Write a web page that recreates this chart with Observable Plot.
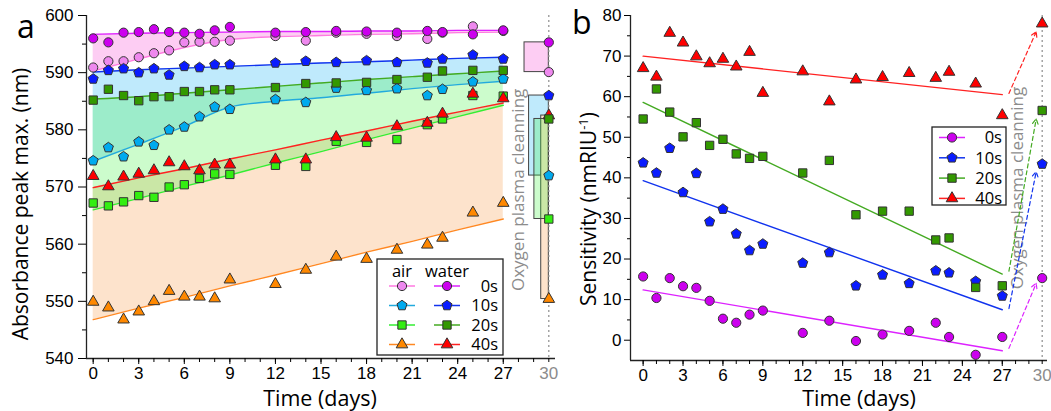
<!DOCTYPE html>
<html><head><meta charset="utf-8">
<script src="https://cdn.jsdelivr.net/npm/d3@7"></script>
<script src="https://cdn.jsdelivr.net/npm/@observablehq/plot@0.6"></script>
<style>
body{margin:0;background:#fff;}
#wrap{position:relative;width:1051px;height:411px;overflow:hidden;background:#fff;}
#pa{position:absolute;left:0;top:0;}
#pb{position:absolute;left:560px;top:0;}
svg{overflow:visible;}
</style></head><body><div id="wrap"><div id="pa"></div><div id="pb"></div></div>
<script>
// ---------- DATA ----------
const days = [0,1,2,3,4,5,6,7,8,9,12,14,16,18,20,22,23,25,27,30];
const groups = ["0s","10s","20s","40s"];
// Panel a: absorbance peak max (nm), measured in air and in water
const air0    = [590.9,592.0,592.0,592.7,593.4,593.9,595.3,595.4,595.4,595.6,596.4,595.6,597.0,596.8,596.4,595.9,597.0,598.1,597.3,590.1];
const water0  = [596.0,595.3,597.0,597.1,597.6,597.1,597.0,596.8,597.4,598.0,597.0,597.1,597.3,597.2,597.0,597.3,597.1,596.7,597.4,595.3];
const air10   = [574.6,576.9,575.3,577.9,577.3,580.0,580.5,582.3,584.0,583.6,585.3,584.8,587.3,586.9,587.2,586.0,587.1,588.4,588.9,572.0];
const water10 = [588.9,590.4,590.7,590.0,590.7,589.6,591.1,590.9,591.4,591.4,591.7,592.0,591.8,592.1,591.8,591.7,592.4,593.1,592.4,586.0];
const air20   = [567.2,566.7,567.4,568.5,568.2,570.0,570.4,571.5,572.3,572.2,573.8,573.6,578.0,577.8,578.3,580.9,581.9,586.0,585.9,564.4];
const water20 = [585.2,587.1,586.0,585.1,585.8,585.8,586.7,586.7,587.0,587.0,587.4,588.1,588.2,588.3,588.8,589.2,590.3,590.4,590.4,581.9];
const air40   = [549.9,548.9,546.8,548.2,550.0,551.8,550.8,550.8,550.5,553.8,553.0,555.5,557.8,557.4,559.0,559.9,561.1,565.5,567.2,550.4];
const water40 = [571.9,570.1,571.8,572.3,572.9,574.3,573.6,572.9,573.9,573.9,574.8,574.8,578.7,578.6,580.6,581.2,582.8,586.3,585.5,582.5];
// Panel a fit curves
const fitDaysA = [0,3,6,9,12,15,18,21,24,27];
const fitAir0    = [590.3,592.4,594.4,595.8,596.3,596.5,596.7,596.8,597.0,597.1];
const fitWater0  = [596.7,596.9,597.0,597.1,597.2,597.2,597.3,597.3,597.4,597.4];
const fitAir10   = [574.5,577.5,580.6,584.0,585.0,585.6,586.4,587.2,587.9,588.5];
const fitWater10 = [590.1,590.5,590.8,591.1,591.4,591.7,591.9,592.2,592.5,592.7];
const fitAir20   = [566.0,568.0,570.1,572.1,574.2,576.2,578.3,580.3,582.3,584.3];
const fitWater20 = [585.4,585.8,586.4,587.0,587.6,588.2,588.8,589.3,589.8,590.3];
const fitAir40   = [546.8,548.8,550.7,552.7,554.6,556.6,558.6,560.5,562.5,564.4];
const fitWater40 = [569.9,571.6,573.2,574.9,576.5,578.2,579.8,581.5,583.1,584.7];
// Panel b: sensitivity (nm RIU^-1)
const sens0  = [15.7,10.4,15.3,13.3,12.9,9.7,5.3,4.3,6.3,7.3,1.8,4.8,-0.2,1.4,2.3,4.3,0.8,-3.6,0.8,15.3];
const sens10 = [43.7,41.2,47.3,36.4,41.1,29.2,32.3,26.2,22.1,23.7,19.0,21.6,13.4,16.1,14.0,17.1,16.6,14.5,10.9,43.4];
const sens20 = [54.5,61.9,56.2,50.1,53.6,48.0,49.5,45.9,44.8,45.3,41.2,44.3,30.9,31.8,31.8,24.7,25.2,13.0,13.4,56.6];
const sens40 = [67.0,64.9,75.7,73.3,69.9,68.2,69.3,67.4,71.0,60.9,66.2,58.8,64.2,64.8,65.8,64.6,66.1,63.2,55.4,78.0];
const fitDaysB = [0,27];
const fitSens0  = [12.4,-2.6];
const fitSens10 = [39.3,7.5];
const fitSens20 = [58.6,16.3];
const fitSens40 = [70.0,60.5];
// dashed arrows after cleaning (start / end values)
const arrowStart = [-2.0,7.8,17.0,60.8];
const arrowEnd   = [14.0,41.5,54.5,76.0];
const arrowDays  = [27.5,29.55];

// ---------- STYLE ----------
const pentagon = {draw(ctx, size){const r=Math.sqrt(size/Math.PI)*1.2;for(let i=0;i<5;i++){const a=-Math.PI/2+i*2*Math.PI/5;const x=r*Math.cos(a),y=r*Math.sin(a);i?ctx.lineTo(x,y):ctx.moveTo(x,y);}ctx.closePath();}};
const symbols = [d3.symbolCircle, pentagon, d3.symbolSquare, d3.symbolTriangle];
const radii = [4.6, 4.4, 4.7, 4.3];
const airFill   = ["#ee88ee","#00aaee","#33ee11","#ff8800"];
const waterFill = ["#cc00ee","#0a1cff","#339900","#ff0000"];
const airLine   = ["#ff7ae0","#22aadd","#33ee33","#ff8822"];
const waterLine = ["#dd22ff","#1133ee","#44aa22","#ff2222"];
const airSeries = [air0, air10, air20, air40];
const waterSeries = [water0, water10, water20, water40];
const fitAir = [fitAir0, fitAir10, fitAir20, fitAir40];
const fitWater = [fitWater0, fitWater10, fitWater20, fitWater40];
const sensSeries = [sens0, sens10, sens20, sens40];
const fitSens = [fitSens0, fitSens10, fitSens20, fitSens40];
const tickFont = "'Liberation Sans', Arial, sans-serif";
const titleFont = "'Open Sans', sans-serif";
const gray = "#8c8c8c";

const pts = arr => days.map((d,i)=>({d, v: arr[i]}));
const fitPts = (dd, arr) => dd.map((d,i)=>({d, v: arr[i]}));
const band = (i) => fitDaysA.map((d,k)=>({d, lo: fitAir[i][k], hi: fitWater[i][k]}));
const dotMark = (arr, i, fill) => Plot.dot(pts(arr), {x:"d", y:"v", symbol: symbols[i], r: radii[i], fill, stroke:"#333", strokeWidth:1});

// ---------- PANEL A ----------
const last = days.length - 1;
const boxLeft = [28.4, 28.7, 29.05, 29.5];
const boxRow = i => [{x1: boxLeft[i], x2: 30, y1: airSeries[i][last], y2: waterSeries[i][last]}];
const areaFill = ["#fdcdf3","#bfeafc","#34f434","#fde3cc"];
const areaOp = [1,1,0.25,1];
const dotOrderA = [];
[0,1,2,3].forEach(i=>dotOrderA.push(dotMark(airSeries[i], i, airFill[i])));
[3,1,2,0].forEach(i=>dotOrderA.push(dotMark(waterSeries[i], i, waterFill[i])));

const plotA = Plot.plot({
  width: 560, height: 411,
  marginLeft: 86, marginRight: 5, marginTop: 15, marginBottom: 53,
  x: {domain: [-0.44, 30.44], range: [86, 555], label: null},
  y: {domain: [540, 600], label: null},
  style: {fontFamily: tickFont, fontSize: "17px", background: "transparent", color: "#000", overflow: "visible"},
  marks: [
    ...[0,1,3,2].map(i => Plot.areaY(band(i), {x:"d", y1:"lo", y2:"hi", fill: areaFill[i], fillOpacity: areaOp[i], curve:"monotone-x"})),
    ...[1,3,2,0].map(i => Plot.rect(boxRow(i), {x1:"x1", x2:"x2", y1:"y1", y2:"y2", fill: areaFill[i], fillOpacity: areaOp[i], stroke:"#444", strokeWidth:1})),
    Plot.ruleX([30], {stroke: gray, strokeDasharray: "2,3", strokeWidth: 1.2}),
    Plot.text(["Oxygen plasma cleanning"], {x: 28.0, y: 569.5, rotate: -90, fill: gray, fontSize: 17, fontFamily: titleFont}),
    ...[0,1,2,3].map(i => Plot.line(fitPts(fitDaysA, fitAir[i]), {x:"d", y:"v", stroke: airLine[i], strokeWidth: 1.4, curve:"monotone-x"})),
    ...[0,1,2,3].map(i => Plot.line(fitPts(fitDaysA, fitWater[i]), {x:"d", y:"v", stroke: waterLine[i], strokeWidth: 1.4, curve:"monotone-x"})),
    ...dotOrderA,
    Plot.ruleY([540], {stroke:"#222", strokeWidth:1.3}),
    Plot.ruleX([-0.44], {stroke:"#222", strokeWidth:1.3}),
    Plot.axisY(d3.range(540, 601, 10), {tickSize: 8, tickPadding: 5, label: null}),
    Plot.axisY(d3.range(545, 600, 10), {tickSize: 4, fill: "none", label: null}),
    Plot.axisX(d3.range(0, 28, 3), {tickSize: 6, tickPadding: 2, label: null}),
    Plot.axisX([30], {tickSize: 0, tickPadding: 8, color: gray, label: null}),
    Plot.axisX(d3.range(0, 31, 1), {tickSize: 4, fill: "none", label: null})
  ]
});
document.getElementById("pa").appendChild(plotA);

// ---------- PANEL B ----------
const plotB = Plot.plot({
  width: 491, height: 411,
  marginLeft: 70, marginRight: 4, marginTop: 15, marginBottom: 51,
  x: {domain: [-0.95, 30.4], label: null},
  y: {domain: [-5, 80], label: null},
  style: {fontFamily: tickFont, fontSize: "17px", background: "transparent", color: "#000", overflow: "visible"},
  marks: [
    Plot.ruleX([30], {stroke: gray, strokeDasharray: "2,3", strokeWidth: 1.2}),
    Plot.text(["Oxygen plasma cleanning"], {x: 28.15, y: 37.5, rotate: -90, fill: gray, fontSize: 17, fontFamily: titleFont}),
    ...[0,1,2,3].map(i => Plot.line(fitPts(fitDaysB, fitSens[i]), {x:"d", y:"v", stroke: waterLine[i], strokeWidth: 1.4})),
    ...[0,1,2,3].map(i => Plot.arrow([{x1: arrowDays[0], x2: arrowDays[1], y1: arrowStart[i], y2: arrowEnd[i]}], {x1:"x1", x2:"x2", y1:"y1", y2:"y2", stroke: waterLine[i], strokeWidth: 1.2, strokeDasharray: "4,3", headLength: 7, bend: 0})),
    ...[0,3,1,2].map(i => dotMark(sensSeries[i], i, waterFill[i])),
    Plot.ruleY([-5], {stroke:"#222", strokeWidth:1.3}),
    Plot.ruleX([-0.95], {stroke:"#222", strokeWidth:1.3}),
    Plot.axisY(d3.range(0, 81, 10), {tickSize: 6, tickPadding: 3, label: null}),
    Plot.axisY(d3.range(5, 80, 10), {tickSize: 3, fill: "none", label: null}),
    Plot.axisX(d3.range(0, 28, 3), {tickSize: 6, tickPadding: 2, label: null}),
    Plot.axisX([30], {tickSize: 0, tickPadding: 8, color: gray, label: null}),
    Plot.axisX(d3.range(0, 31, 1), {tickSize: 4, fill: "none", label: null})
  ]
});
document.getElementById("pb").appendChild(plotB);

// ---------- TITLES & LEGENDS ----------
function addText(svg, t) {
  const el = d3.select(svg).append("text").attr("font-family", titleFont).attr("font-size", t.fs).attr("fill", t.fill || "#000")
    .attr("text-anchor", t.anchor || "middle").attr("transform", `translate(${t.x},${t.y})` + (t.rot ? ` rotate(${t.rot})` : ""));
  if (t.sup) { el.append("tspan").text(t.text); el.append("tspan").attr("font-size", t.fs*0.62).attr("dy", -t.fs*0.4).text(t.sup); el.append("tspan").attr("dy", t.fs*0.4).text(t.after); }
  else el.text(t.text);
}
addText(plotA, {x: 17, y: 38, fs: 32, text: "a", anchor: "start"});
addText(plotA, {x: 320, y: 406, fs: 21.5, text: "Time (days)"});
addText(plotA, {x: 28, y: 204, fs: 21, text: "Absorbance peak max. (nm)", rot: -90});
addText(plotB, {x: 12, y: 34, fs: 32, text: "b", anchor: "start"});
addText(plotB, {x: 299, y: 406, fs: 21.5, text: "Time (days)"});
addText(plotB, {x: 36, y: 209, fs: 21, text: "Sensitivity (nmRIU", sup: "-1", after: ")", rot: -90});

function drawLegend(svg, L) {
  const g = d3.select(svg).append("g");
  g.append("rect").attr("x", L.x).attr("y", L.y).attr("width", L.w).attr("height", L.h).attr("fill", "#fff").attr("stroke", "#222").attr("stroke-width", 1.3);
  (L.header || []).forEach(h => g.append("text").attr("x", h.x).attr("y", h.y).attr("text-anchor", "middle").attr("font-family", titleFont).attr("font-size", L.fs).text(h.text));
  groups.forEach((name, i) => {
    const cy = L.rowY0 + i * L.rowDy;
    L.cols.forEach(c => {
      g.append("line").attr("x1", c.x - 13).attr("x2", c.x + 13).attr("y1", cy).attr("y2", cy).attr("stroke", c.line[i]).attr("stroke-width", 1.5);
      g.append("path").attr("transform", `translate(${c.x},${cy})`).attr("d", d3.symbol(symbols[i], radii[i]*radii[i]*Math.PI)()).attr("fill", c.fill[i]).attr("stroke", "#333");
    });
    g.append("text").attr("x", L.labelX).attr("y", cy).attr("dy", "0.36em").attr("text-anchor", "end").attr("font-family", titleFont).attr("font-size", L.fs).text(name);
  });
}
drawLegend(plotA, {x: 377, y: 259, w: 126, h: 96, fs: 16.5, rowY0: 286, rowDy: 19.5, labelX: 498,
  header: [{x: 402, y: 277, text: "air"}, {x: 447, y: 277, text: "water"}],
  cols: [{x: 402, line: airLine, fill: airFill}, {x: 447, line: waterLine, fill: waterFill}]});
drawLegend(plotB, {x: 372, y: 127, w: 74, h: 78, fs: 16.5, rowY0: 137.5, rowDy: 20.3, labelX: 442,
  cols: [{x: 392, line: waterLine, fill: waterFill}]});
</script></body></html>
